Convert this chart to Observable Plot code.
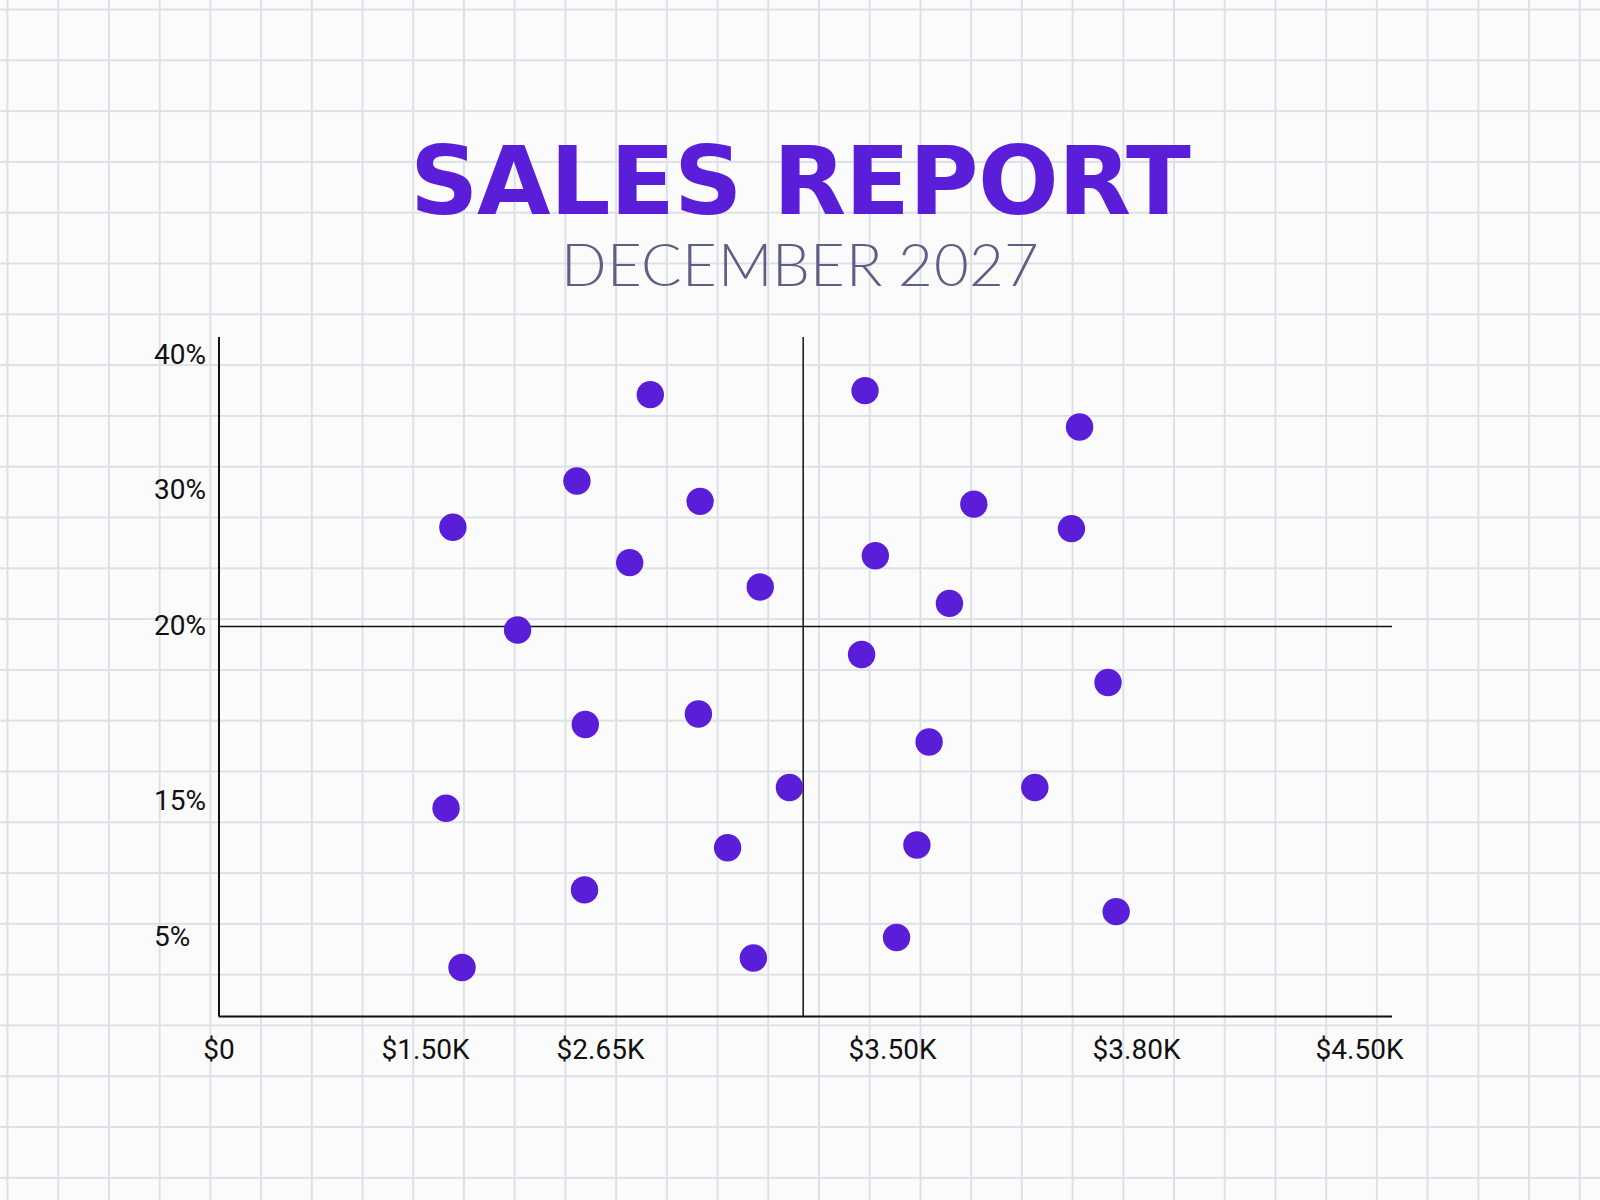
<!DOCTYPE html>
<html>
<head>
<meta charset="utf-8">
<script src="https://cdn.jsdelivr.net/npm/d3@7"></script>
<script src="https://cdn.jsdelivr.net/npm/@observablehq/plot@0.6"></script>
<style>
  @font-face {
    font-family: "TitleFace";
    src: local("DejaVu Sans Bold"), local("DejaVuSans-Bold");
    font-weight: 700;
    ascent-override: 92.8%;
    descent-override: 8%;
    line-gap-override: 0%;
  }
  @font-face {
    font-family: "SubFace";
    src: local("Lato Light"), local("Lato-Light");
    font-weight: 300;
    ascent-override: 80%;
    descent-override: 20%;
    line-gap-override: 0%;
  }
  html, body { margin: 0; padding: 0; width: 1600px; height: 1200px; overflow: hidden; }
  body {
    background-color: #fbfbfc;
    background-image:
      linear-gradient(to right, #dde1e6 1.5px, transparent 1.5px),
      linear-gradient(to bottom, #dde1e6 1.5px, transparent 1.5px);
    background-size: 50.72px 50.8px;
    background-position: 6.5px 8.5px;
  }
  #header { position: relative; width: 1600px; height: 300px; }
  #title {
    position: absolute; left: 0; right: 0; top: 134px; margin: 0;
    text-align: center; font-family: "TitleFace", "DejaVu Sans", sans-serif; font-weight: 700;
    font-size: 95px; line-height: 80px; color: #5a1dd8; letter-spacing: -1px;
  }
  #subtitle {
    position: absolute; left: 0; right: 0; top: 238px; margin: 0;
    text-align: center; font-family: "SubFace", "Lato", sans-serif; font-weight: 300;
    font-size: 60px; line-height: 60px; color: #5e5f85; letter-spacing: 0.3px;
  }
  #chart svg { display: block; }
</style>
</head>
<body>
<div id="header">
  <div id="title">SALES REPORT</div>
  <div id="subtitle">DECEMBER 2027</div>
</div>
<div id="chart"></div>
<script>
// Sales (USD) and margin (%) for each point
const sales  = [2795, 2495, 2940, 1680, 2735, 3115, 2105, 3420, 3730, 3600, 3720, 3450, 3570, 3410,
                2550, 2935, 3200, 1635, 3020, 2545, 1740, 3095, 3765, 3545, 3675, 3530, 3775, 3505];
const margin = [37.1, 30.7, 29.2, 27.3, 24.7, 22.9, 19.9, 37.4, 34.7, 29.0, 27.2, 25.2, 21.7, 19.2,
                17.2, 17.5, 15.4, 14.5, 11.6, 8.5, 3.1, 3.7, 18.4, 16.7, 15.4, 11.8, 6.9, 5.0];

// Axis ticks (unevenly spaced in the original design)
const xTickValues = [0, 1500, 2650, 3500, 3800, 4500];
const xTickLabels = ["$0", "$1.50K", "$2.65K", "$3.50K", "$3.80K", "$4.50K"];
const yTickValues = [5, 15, 20, 30, 40];
const yTickLabels = ["5%", "15%", "20%", "30%", "40%"];

// Quadrant dividers
const salesDivider = 3240;
const marginDivider = 20;
const yBase = 0;

const data = sales.map((s, i) => ({sales: s, margin: margin[i]}));

const purple = "#5a1dd8";

const chart = Plot.plot({
  width: 1600,
  height: 900,
  marginTop: 37,
  marginBottom: 184,
  marginLeft: 218.5,
  marginRight: 208,
  style: {background: "transparent", fontFamily: "Roboto, sans-serif", fontSize: "28px", color: "#111"},
  x: {type: "linear", domain: xTickValues, range: [218.5, 425, 600, 892, 1136, 1359]},
  y: {type: "linear", domain: [yBase, ...yTickValues], range: [716, 637, 501, 326, 190, 55]},
  marks: [
    Plot.ruleX([salesDivider], {stroke: "#111", strokeWidth: 1.5}),
    Plot.ruleY([marginDivider], {stroke: "#111", strokeWidth: 1.5}),
    Plot.ruleX([0], {stroke: "#111", strokeWidth: 2}),
    Plot.ruleY([yBase], {stroke: "#111", strokeWidth: 2}),
    Plot.axisX({ticks: xTickValues, tickFormat: d => xTickLabels[xTickValues.indexOf(d)],
      tickSize: 0, tickPadding: 23, fontSize: 28, fill: "#111", label: null}),
    Plot.axisY({ticks: yTickValues, tickFormat: d => yTickLabels[yTickValues.indexOf(d)],
      tickSize: 0, tickPadding: 65, textAnchor: "start", fontSize: 28, fill: "#111", label: null}),
    Plot.dot(data, {x: "sales", y: "margin", r: 13.7, fill: purple, stroke: "none"})
  ]
});
document.getElementById("chart").appendChild(chart);
</script>
</body>
</html>
